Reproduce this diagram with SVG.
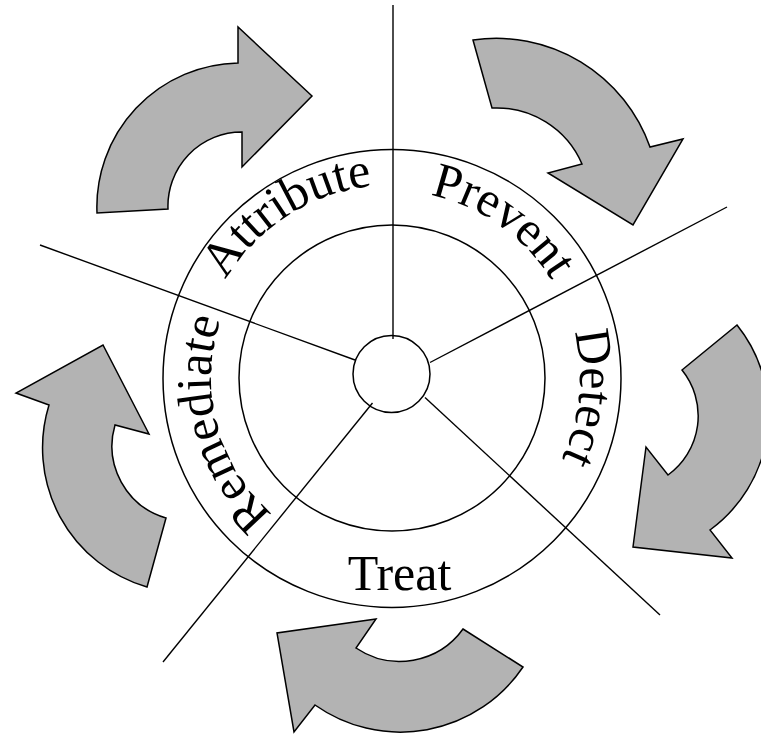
<svg xmlns="http://www.w3.org/2000/svg" xmlns:xlink="http://www.w3.org/1999/xlink" width="761" height="736" viewBox="0 0 761 736">
<style>
.arrow{fill:#b3b3b3;stroke:#000;stroke-width:1.5;stroke-linejoin:miter}
.ring{fill:none;stroke:#000;stroke-width:1.5}
.spoke{stroke:#000;stroke-width:1.4;fill:none}
.lbl{font-family:"Liberation Serif","Times New Roman",serif;font-size:50px;fill:#000}
</style>
<defs>
<path id="arcA" d="M392,571 A193,193 0 1 1 392,185 A193,193 0 1 1 392,571"/>
<path id="arcP" d="M392,565 A187,187 0 1 1 392,191 A187,187 0 1 1 392,565"/>
<path id="arcD" d="M392,566 A188,188 0 1 1 392,190 A188,188 0 1 1 392,566"/>
<path id="arcR" d="M392,559 A181,181 0 1 1 392,197 A181,181 0 1 1 392,559"/>
</defs>
<rect width="761" height="736" fill="#fff"/>
<g id="arrows">
<path id="arrow-attribute" class="arrow" d="M97,213 A144,144 0 0,1 238,63 L238,27 L312,96 L242,167 L242,132 A74,74 0 0,0 168,209 Z"/>
<path id="arrow-prevent" class="arrow" d="M473,40 A163,163 0 0,1 650,147 L683,139 L633,225 L548,173 L582,164 A93,93 0 0,0 492,108 Z"/>
<path id="arrow-detect" class="arrow" d="M682,370 L737,325 A143,143 0 0,1 710,530 L732,558 L633,547 L646,447 L668,475 A73,73 0 0,0 682,370 Z"/>
<path id="arrow-treat" class="arrow" d="M463,629 L523,667 A148,148 0 0,1 315,705 L294,732 L277,633 L376,619 L356,648 A78,78 0 0,0 463,629 Z"/>
<path id="arrow-remediate" class="arrow" d="M166,518 L147,587 A145,145 0 0,1 49,405 L16,393 L103,345 L149,434 L115,425 A75,75 0 0,0 166,518 Z"/>
</g>
<g id="ring">
<circle class="ring" cx="392" cy="378.5" r="229"/>
<circle class="ring" cx="392" cy="378" r="153"/>
</g>
<g id="connectors">
<line class="spoke" x1="393" y1="5" x2="393" y2="339"/>
<line class="spoke" x1="727" y1="207" x2="430" y2="362.5"/>
<line class="spoke" x1="40" y1="245" x2="355" y2="360"/>
<line class="spoke" x1="425" y1="397.5" x2="660" y2="615"/>
<line class="spoke" x1="372.5" y1="403" x2="163" y2="662"/>
</g>
<g id="hub">
<circle class="ring" cx="391.5" cy="374" r="38.5" fill="#fff"/>
</g>
<g id="label-detect"><text class="lbl" text-anchor="middle"><textPath xlink:href="#arcD" startOffset="904">Detect</textPath></text></g>
<g id="label-remediate"><text class="lbl" text-anchor="middle"><textPath xlink:href="#arcR" startOffset="237">Remediate</textPath></text></g>
<g id="label-attribute"><text class="lbl" text-anchor="middle"><textPath xlink:href="#arcA" startOffset="496">Attribute</textPath></text></g>
<g id="label-prevent"><text class="lbl" text-anchor="middle"><textPath xlink:href="#arcP" startOffset="702">Prevent</textPath></text></g>
<g id="label-treat"><text class="lbl" x="399.5" y="590" text-anchor="middle">Treat</text></g>
</svg>
